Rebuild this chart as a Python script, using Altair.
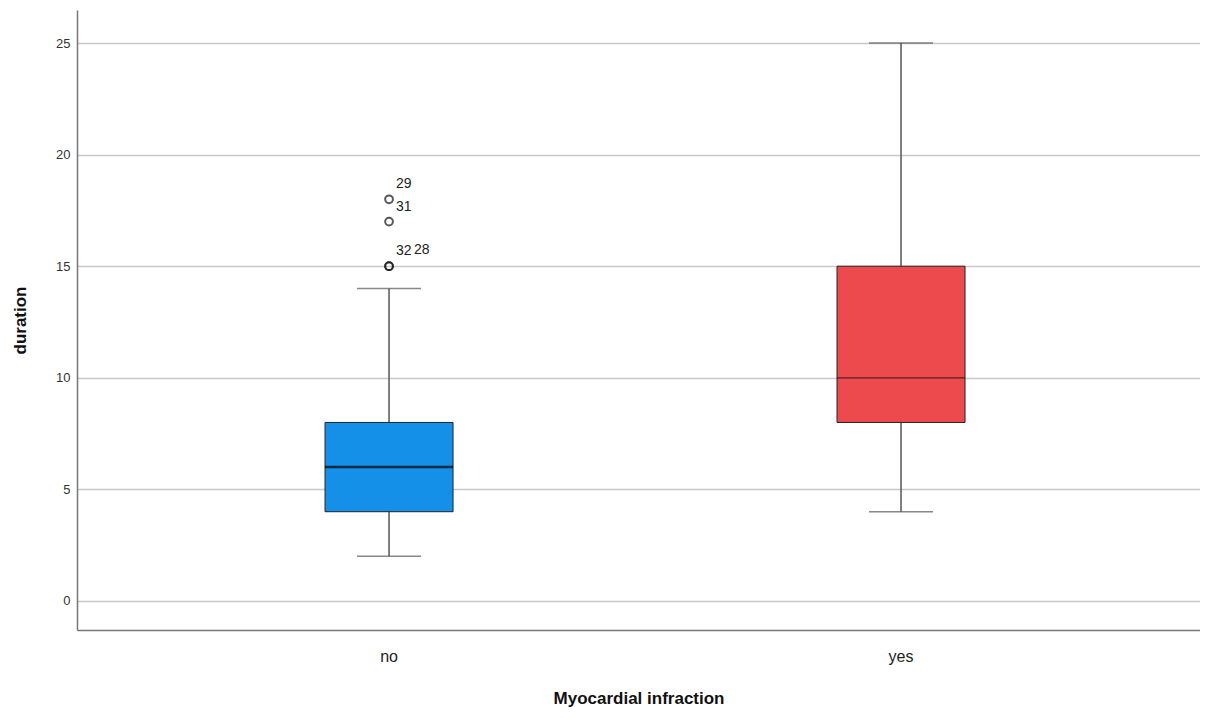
import altair as alt
import pandas as pd

categories = ["no", "yes"]
whisker_low = [2, 4]
q1 = [4, 8]
median = [6, 10]
q3 = [8, 15]
whisker_high = [14, 25]
box_colors = ["#1590E8", "#EC4A4C"]

outlier_cat = ["no", "no", "no", "no"]
outlier_val = [18, 17, 15, 15]
outlier_id = ["29", "31", "32", "28"]

summary = pd.DataFrame({
    "cat": categories, "lo": whisker_low, "q1": q1, "med": median,
    "q3": q3, "hi": whisker_high,
})
outliers = pd.DataFrame({"cat": outlier_cat, "val": outlier_val, "id": outlier_id})

font = "Liberation Sans"
xscale = alt.Scale(domain=categories, paddingInner=0, paddingOuter=0.0967, align=0.566)
yscale = alt.Scale(domain=[-1.3, 26.48], nice=False, zero=False)

x_axis = alt.Axis(title="Myocardial infraction", labelAngle=0, labelFontSize=16,
                  labelFont=font, labelColor="#222", ticks=False, labelPadding=18,
                  titleFont=font, titleFontSize=17, titleFontWeight="bold",
                  titleColor="#111", titlePadding=26, domainColor="#777",
                  domainWidth=1.5, grid=False)
y_axis = alt.Axis(title="duration", values=[0, 5, 10, 15, 20, 25], labelFontSize=13,
                  labelFont=font, labelColor="#333", ticks=False, labelPadding=7,
                  titleFont=font, titleFontSize=17, titleFontWeight="bold",
                  titleColor="#111", titlePadding=26, domainColor="#777",
                  domainWidth=1.5, grid=True, gridColor="#c8c8c8", gridWidth=1.3)

x = alt.X("cat:N", scale=xscale, sort=categories, axis=x_axis)


def Y(field):
    return alt.Y(field, scale=yscale, axis=y_axis)


base = alt.Chart(summary)

whiskers = base.mark_rule(color="#555", strokeWidth=1.5).encode(
    x=x, y=Y("lo:Q"), y2="hi:Q")

caps_lo = base.mark_tick(color="#555", size=64, thickness=1.5).encode(x=x, y=Y("lo:Q"))
caps_hi = base.mark_tick(color="#555", size=64, thickness=1.5).encode(x=x, y=Y("hi:Q"))

boxes = base.mark_bar(size=128, stroke="#222", strokeWidth=1).encode(
    x=x, y=Y("q1:Q"), y2="q3:Q",
    color=alt.Color("cat:N", scale=alt.Scale(domain=categories, range=box_colors), legend=None))

med_no = base.transform_filter(alt.datum.cat == "no").mark_tick(
    color="#000", size=128, thickness=2.5).encode(x=x, y=Y("med:Q"))
med_yes = base.transform_filter(alt.datum.cat == "yes").mark_tick(
    color="#111", size=128, thickness=1.3).encode(x=x, y=Y("med:Q"))

obase = alt.Chart(outliers)
pts = obase.mark_point(shape="circle", filled=False, color="#111", size=60, strokeWidth=2).encode(
    x=x, y=Y("val:Q"))
labels = obase.transform_filter(alt.datum.id != "28").mark_text(
    align="left", baseline="middle", dx=7, dy=-15, fontSize=14, font=font, color="#222").encode(
    x=x, y=Y("val:Q"), text="id:N")
labels2 = obase.transform_filter(alt.datum.id == "28").mark_text(
    align="left", baseline="middle", dx=25, dy=-16, fontSize=14, font=font, color="#222").encode(
    x=x, y=Y("val:Q"), text="id:N")

chart = alt.layer(whiskers, caps_lo, caps_hi, boxes, med_no, med_yes, pts, labels, labels2).properties(
    width=1123, height=620,
    autosize=alt.AutoSizeParams(type="none"),
    padding={"left": 69, "top": 2, "right": 0, "bottom": 80},
    view=alt.ViewBackground(stroke="transparent", strokeWidth=0),
).configure_view(stroke="transparent", strokeWidth=0).configure(background="white")

chart.save("out.html", embed_options={"renderer": "svg", "actions": False})
